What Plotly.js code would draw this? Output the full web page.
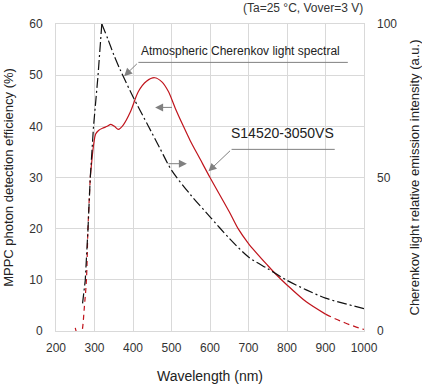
<!DOCTYPE html>
<html>
<head>
<meta charset="utf-8">
<script src="https://cdn.plot.ly/plotly-3.0.1.min.js"></script>
<style>html,body{margin:0;padding:0;background:#fff;}#chart{width:422px;height:387px;}</style>
</head>
<body>
<div id="chart"></div>
<script>
// Atmospheric Cherenkov light spectrum (right axis, a.u.): rising edge and falling part
const cherRiseWl = [269, 276, 283, 289, 297.5, 309, 319];
const cherRise   = [9, 16.5, 33, 50, 66.7, 83, 100];
const cherFallWl = [319, 335, 350, 367, 400, 440, 470, 500, 550, 600, 650, 700, 750, 800, 850, 900, 950, 1000];
const cherFall   = [100, 95, 90, 85, 76.3, 66.7, 59.5, 52.4, 44.3, 37.2, 30.2, 24.1, 20.3, 16.5, 13.4, 10.7, 8.9, 7.3];

// S14520-3050VS photon detection efficiency (left axis, %)
const pdeLowWl  = [250, 262, 268, 274, 279, 283, 289];
const pdeLow    = [0.6, -2, 0, 5, 10, 20, 30];
const pdeWl = [289, 297.5, 303, 310.5, 323, 333, 342.5, 352, 362, 375, 393, 414, 435, 456, 475, 492, 510, 531, 548, 575, 600, 650, 673, 700, 750, 771, 800, 850, 900];
const pde   = [30, 36.3, 38.5, 39.2, 39.7, 40, 40.4, 40, 39.4, 40.3, 42.8, 46.8, 48.8, 49.5, 48.7, 46.8, 43.5, 40, 37.3, 33.5, 30, 23.3, 20, 17.1, 12.8, 11.1, 9.0, 5.7, 3.3];
const pdeHighWl = [900, 925, 950, 975, 1000];
const pdeHigh   = [3.3, 2.4, 1.6, 0.9, 0.3];

const xTicks = [200, 300, 400, 500, 600, 700, 800, 900, 1000];
const yTicks = [0, 10, 20, 30, 40, 50, 60];
const y2Ticks = [0, 50, 100];

const RED = '#c0141c';
const GRID = '#d9d9d9';
const TXT = '#333333';
const ARW = '#808080';
const FONT = 'Liberation Sans, Arial, Helvetica, sans-serif';
const DASHDOT = '10px,3px,2px,3px';

const traces = [
  {x: cherRiseWl, y: cherRise, yaxis: 'y2', mode: 'lines', line: {color: '#111', width: 1.2, dash: DASHDOT}, hoverinfo: 'skip'},
  {x: cherFallWl, y: cherFall, yaxis: 'y2', mode: 'lines', line: {color: '#111', width: 1.2, dash: DASHDOT, shape: 'spline', smoothing: 0.8}, hoverinfo: 'skip'},
  {x: pdeLowWl, y: pdeLow, mode: 'lines', line: {color: RED, width: 1.2, dash: '5px,4px', shape: 'spline'}, hoverinfo: 'skip'},
  {x: pdeWl, y: pde, mode: 'lines', line: {color: RED, width: 1.2, shape: 'spline', smoothing: 0.8}, hoverinfo: 'skip'},
  {x: pdeHighWl, y: pdeHigh, mode: 'lines', line: {color: RED, width: 1.2, dash: '6px,4px', shape: 'spline'}, hoverinfo: 'skip'}
];

const layout = {
  width: 422, height: 387,
  margin: {l: 55.7, r: 57.7, t: 24, b: 56.3},
  paper_bgcolor: '#fff', plot_bgcolor: '#fff',
  showlegend: false,
  font: {family: FONT, size: 12, color: TXT},
  xaxis: {
    range: [200, 1000], tickvals: xTicks, ticktext: xTicks.map(String),
    showgrid: true, gridcolor: GRID, gridwidth: 1, zeroline: false,
    showline: true, mirror: true, linecolor: GRID, linewidth: 1,
    ticks: '', ticklabelstandoff: 6,
    tickfont: {size: 12, color: TXT},
    title: {text: 'Wavelength (nm)', font: {size: 14, color: '#222'}, standoff: 16}
  },
  yaxis: {
    range: [0, 60], tickvals: yTicks, ticktext: yTicks.map(String),
    showgrid: true, gridcolor: GRID, gridwidth: 1, zeroline: false,
    showline: true, mirror: true, linecolor: GRID, linewidth: 1,
    ticks: '', ticklabelstandoff: 10,
    tickfont: {size: 12, color: TXT},
    title: {text: 'MPPC photon detection efficiency (%)', font: {size: 13, color: '#222'}, standoff: 12}
  },
  yaxis2: {
    range: [0, 100], tickvals: y2Ticks, ticktext: y2Ticks.map(String),
    overlaying: 'y', side: 'right', showgrid: false, zeroline: false, showline: false,
    ticks: '', ticklabelstandoff: 12,
    tickfont: {size: 12, color: TXT},
    title: {text: 'Cherenkov light relative emission intensity (a.u.)', font: {size: 13, color: '#222'}, standoff: 14}
  },
  shapes: [
    {type: 'line', xref: 'x', yref: 'y', x0: 414, x1: 958, y0: 52.5, y1: 52.5, line: {color: ARW, width: 1}},
    {type: 'line', xref: 'x', yref: 'y', x0: 656, x1: 924, y0: 35.5, y1: 35.5, line: {color: ARW, width: 1}}
  ],
  annotations: [
    {xref: 'paper', yref: 'paper', x: 1.0, y: 1.0, xanchor: 'right', yanchor: 'bottom', yshift: 7, xshift: 1,
     text: '(Ta=25 °C, Vover=3 V)', showarrow: false, font: {size: 12, color: TXT}},
    {xref: 'x', yref: 'y', x: 678, y: 54.7, text: 'Atmospheric Cherenkov light spectral', showarrow: false,
     font: {size: 12, color: '#222'}},
    {xref: 'x', yref: 'y', x: 787, y: 38.7, text: 'S14520-3050VS', showarrow: false,
     font: {size: 14, color: '#222'}},
    {xref: 'x', yref: 'y', x: 377, y: 49.8, axref: 'x', ayref: 'y', ax: 414, ay: 52.5, text: '', showarrow: true,
     arrowhead: 2, arrowsize: 1.6, arrowwidth: 1, arrowcolor: ARW},
    {xref: 'x', yref: 'y', x: 596, y: 31.2, axref: 'x', ayref: 'y', ax: 656, ay: 35.5, text: '', showarrow: true,
     arrowhead: 2, arrowsize: 1.6, arrowwidth: 1, arrowcolor: ARW},
    {xref: 'x', yref: 'y', x: 457.5, y: 43.7, axref: 'x', ayref: 'y', ax: 505, ay: 43.7, text: '', showarrow: true,
     arrowhead: 2, arrowsize: 1.6, arrowwidth: 1, arrowcolor: ARW},
    {xref: 'x', yref: 'y', x: 540, y: 32.7, axref: 'x', ayref: 'y', ax: 488, ay: 32.7, text: '', showarrow: true,
     arrowhead: 2, arrowsize: 1.6, arrowwidth: 1, arrowcolor: ARW}
  ]
};

Plotly.newPlot('chart', traces, layout, {staticPlot: true, displayModeBar: false});
</script>
</body>
</html>
